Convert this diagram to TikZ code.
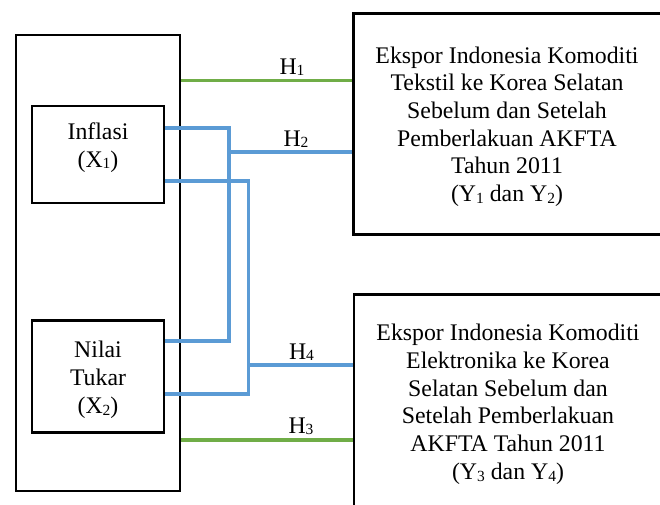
\documentclass[tikz,border=0pt]{standalone}
\usepackage{fontspec}
\setmainfont{Liberation Serif}
\definecolor{hgreen}{HTML}{70AD47}
\definecolor{hblue}{HTML}{5B9BD5}
\newcommand{\subsc}[1]{\raisebox{-0.08em}{\fontsize{15.5}{15.5}\selectfont #1}}
\begin{document}
\begin{tikzpicture}[x=1pt,y=-1pt,
  box/.style={draw,line width=2.5pt,rectangle,inner sep=0pt},
  lbl/.style={font=\fontsize{23.8}{28}\selectfont,align=center,inner sep=0pt},
  rlbl/.style={font=\fontsize{23.8}{27.7}\selectfont,align=center,inner sep=0pt},
  hlbl/.style={font=\fontsize{23.8}{28}\selectfont,inner sep=0pt,anchor=base},
  gline/.style={draw=hgreen,line width=3.3pt},
  bline/.style={draw=hblue,line width=3.6pt}]
\useasboundingbox (0,0) rectangle (660,504);
\clip (0,0) rectangle (660,504);
% boxes
\node[box,minimum width=164pt,minimum height=456pt] (xbox) at (98,263) {};
\node[box,minimum width=132pt,minimum height=97pt] (inflasi) at (98,154.5) {};
\node[box,minimum width=132pt,minimum height=112pt] (nilai) at (98,376.7) {};
\node[box,minimum width=330pt,minimum height=221pt] (yone) at (518.3,123.8) {};
\node[box,minimum width=330pt,minimum height=236pt] (ytwo) at (519,412.3) {};
% texts
\node[lbl] (inflasiT) at (98,147.2) {Inflasi\\(X\subsc{1})};
\node[lbl] (nilaiT) at (98,379.7) {Nilai\\Tukar\\(X\subsc{2})};
\node[rlbl] (yoneT) at (507,126.7) {Ekspor Indonesia Komoditi\\Tekstil ke Korea Selatan\\Sebelum dan Setelah\\Pemberlakuan AKFTA\\Tahun 2011\\(Y\subsc{1} dan Y\subsc{2})};
\node[rlbl] (ytwoT) at (508,404.2) {Ekspor Indonesia Komoditi\\Elektronika ke Korea\\Selatan Sebelum dan\\Setelah Pemberlakuan\\AKFTA Tahun 2011\\(Y\subsc{3} dan Y\subsc{4})};
% helper coordinates
\coordinate (h1) at (0,80.7);
\coordinate (h3) at (0,440);
\coordinate (ja) at (229,127.7);
\coordinate (jb) at (229,340.7);
\coordinate (h2) at (229,151.7);
\coordinate (ka) at (248.5,181);
\coordinate (kb) at (248.5,394);
\coordinate (h4) at (248.5,365);
% connectors
\draw[gline] (xbox.east |- h1) -- (yone.west |- h1);
\draw[gline] (xbox.east |- h3) -- (ytwo.west |- h3);
\draw[bline] (inflasi.east |- ja) -- (ja) -- (jb) -- (nilai.east |- jb);
\draw[bline] (inflasi.east |- ka) -- (ka) -- (kb) -- (nilai.east |- kb);
\draw[bline] (h2) -- (yone.west |- h2);
\draw[bline] (h4) -- (ytwo.west |- h4);
% labels
\node[hlbl] (lh1) at (292,74) {H\subsc{1}};
\node[hlbl] (lh2) at (296,146) {H\subsc{2}};
\node[hlbl] (lh4) at (301.5,359) {H\subsc{4}};
\node[hlbl] (lh3) at (301,433) {H\subsc{3}};
\end{tikzpicture}
\end{document}
